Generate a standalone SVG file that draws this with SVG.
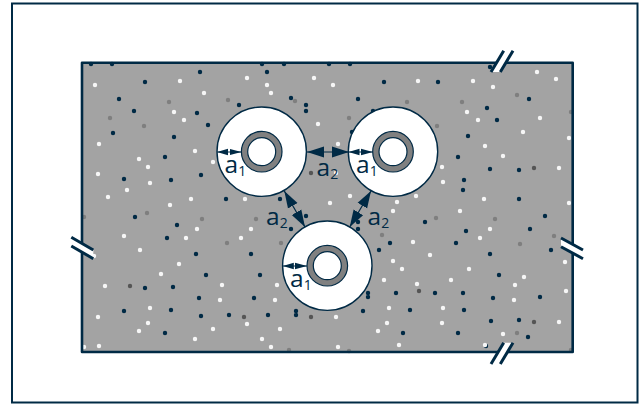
<svg xmlns="http://www.w3.org/2000/svg" width="642" height="404" viewBox="0 0 642 404">
<style>
.frame{fill:#fff;stroke:#002a45;stroke-width:2}
.slab{fill:#a3a3a3}
.edge{fill:none;stroke:#002a45;stroke-width:2.6;stroke-linejoin:round}
.dots{fill:none;stroke-width:4.4;stroke-linecap:round}
.d{stroke:#002a45}.w{stroke:#f6f6f6}.g{stroke:#7f7f7f}.k{stroke:#555}
.hole{fill:#fff;stroke:#002a45;stroke-width:1.4}
.ring{fill:#808080;stroke:#002a45;stroke-width:1.2}
.bore{fill:#fff;stroke:#002a45;stroke-width:1.2}
.dim{stroke:#002a45;stroke-width:1.2;marker-start:url(#headS);marker-end:url(#headE)}
.dim1{stroke:#002a45;stroke-width:1;marker-start:url(#headS1);marker-end:url(#headE1)}
.brk{stroke:#002a45;stroke-width:3;fill:none}
.gap{fill:#fff}
text{font-family:"Open Sans","Noto Sans",sans-serif;fill:#002a45;font-size:24.5px}
.s{font-size:14px}
</style>
<defs>
<marker id="headE" markerUnits="userSpaceOnUse" markerWidth="18" markerHeight="14" refX="17" refY="7" orient="auto"><path d="M0 1.5L17 7L0 12.5Z" fill="#002a45"/></marker>
<marker id="headS" markerUnits="userSpaceOnUse" markerWidth="18" markerHeight="14" refX="1" refY="7" orient="auto"><path d="M18 1.5L1 7L18 12.5Z" fill="#002a45"/></marker>
<marker id="headE1" markerUnits="userSpaceOnUse" markerWidth="13" markerHeight="10" refX="12" refY="5" orient="auto"><path d="M0 1.8L12 5L0 8.2Z" fill="#002a45"/></marker>
<marker id="headS1" markerUnits="userSpaceOnUse" markerWidth="13" markerHeight="10" refX="1" refY="5" orient="auto"><path d="M12 1.8L1 5L12 8.2Z" fill="#002a45"/></marker>
</defs>
<rect class="frame" x="12" y="3.5" width="625.5" height="399"/>
<g id="slab">
<rect class="slab" x="82" y="62.7" width="490.7" height="289.3"/>
<path class="dots d" d="M200 72h.01M145 82h.01M267 72h.01M119 99h.01M134 111h.01M197 113h.01M208 125h.01M113 133h.01M174 137h.01M165 157h.01M201 175h.01M124 179h.01M171 180h.01M239 105h.01M291 98h.01M306 105h.01M306 111h.01M226 199h.01M280 199h.01M91 64h.01M112 64h.01M262 64h.01M284 64h.01M384 82h.01M438 82h.01M358 99h.01M373 111h.01M487 108h.01M529 99h.01M497 120h.01M468 136h.01M458 157h.01M490 169h.01M519 170h.01M464 180h.01M463 190h.01M519 199h.01M352 132h.01M490 67h.01M329 64h.01M350 64h.01M135 217h.01M177 225h.01M167 238h.01M196 254h.01M251 254h.01M206 275h.01M260 275h.01M145 288h.01M173 287h.01M199 298h.01M254 298h.01M124 311h.01M171 310h.01M201 316h.01M229 315h.01M268 315h.01M296 311h.01M296 315h.01M165 333h.01M291 229h.01M306 216h.01M545 216h.01M425 222h.01M466 231h.01M530 229h.01M390 243h.01M456 243h.01M379 250h.01M490 254h.01M551 250h.01M499 275h.01M396 293h.01M435 293h.01M463 293h.01M493 298h.01M540 297h.01M368 293h.01M368 297h.01M363 311h.01M410 310h.01M464 310h.01M491 321h.01M519 320h.01M403 333h.01M458 333h.01M528 337h.01M358 229h.01M358 222h.01M486 346h.01"/>
<path class="dots w" d="M95 85h.01M180 81h.01M247 78h.01M314 78h.01M267 85h.01M271 93h.01M204 93h.01M174 112h.01M184 120h.01M99 144h.01M195 151h.01M139 159h.01M148 167h.01M213 162h.01M98 174h.01M150 183h.01M127 190h.01M108 197h.01M191 199h.01M245 199h.01M318 124h.01M333 85h.01M418 81h.01M473 81h.01M493 87h.01M537 72h.01M556 79h.01M467 112h.01M478 120h.01M540 118h.01M523 132h.01M569 138h.01M485 146h.01M503 156h.01M559 168h.01M442 167h.01M443 182h.01M484 199h.01M350 196h.01M416 196h.01M338 144h.01M336 173h.01M170 205h.01M124 236h.01M197 229h.01M186 238h.01M251 229h.01M241 238h.01M140 250h.01M94 256h.01M179 264h.01M161 274h.01M222 285h.01M105 286h.01M277 285h.01M220 300h.01M275 300h.01M150 308h.01M98 317h.01M148 323h.01M247 324h.01M139 331h.01M213 329h.01M280 329h.01M195 339h.01M262 339h.01M99 346h.01M271 347h.01M84 347h.01M393 211h.01M397 202h.01M460 211h.01M330 203h.01M569 203h.01M490 229h.01M480 238h.01M413 242h.01M430 255h.01M393 261h.01M565 262h.01M402 269h.01M469 269h.01M384 280h.01M451 280h.01M417 284h.01M524 277h.01M515 285h.01M566 291h.01M514 300h.01M389 308h.01M443 308h.01M336 317h.01M387 323h.01M442 323h.01M559 322h.01M378 331h.01M503 334h.01M399 345h.01M485 345h.01M338 347h.01"/>
<path class="dots g" d="M169 102h.01M228 100h.01M295 101h.01M110 118h.01M144 126h.01M407 102h.01M462 102h.01M517 95h.01M349 118h.01M437 126h.01M571 112h.01M147 213h.01M202 219h.01M256 219h.01M227 243h.01M281 243h.01M84 217h.01M289 350h.01M436 218h.01M495 219h.01M382 235h.01M554 236h.01M520 244h.01M517 333h.01M349 351h.01M571 350h.01"/>
<path class="dots k" d="M311 173h.01M534 168h.01M130 286h.01M244 317h.01M311 317h.01M419 291h.01M534 322h.01"/>
<rect class="edge" x="82" y="62.7" width="490.7" height="289.3"/>
</g>
<g id="breaks">
<path class="gap" d="M503.7 50.7L513 50.7L500.3 72L491 72Z"/>
<path class="gap" d="M503.7 342.7L513 342.7L500.3 364L491 364Z"/>
<path class="gap" d="M71.3 237.3L93.3 250L93.3 258.7L71.3 246Z"/>
<path class="gap" d="M561 238L583 250L583 258.7L561 246.7Z"/>
<path class="brk" d="M503.7 50.7L491 72M513 50.7L500.3 72M503.7 342.7L491 364M513 342.7L500.3 364M71.3 237.3L93.3 250M71.3 246L93.3 258.7M561 238L583 250M561 246.7L583 258.7"/>
</g>
<g id="pipe-left">
<circle class="hole" cx="261.7" cy="151.7" r="44.7"/>
<circle class="ring" cx="261.7" cy="151.7" r="20.3"/>
<circle class="bore" cx="261.7" cy="151.7" r="14"/>
</g>
<g id="pipe-right">
<circle class="hole" cx="393" cy="151.7" r="44.7"/>
<circle class="ring" cx="393" cy="151.7" r="20.3"/>
<circle class="bore" cx="393" cy="151.7" r="14"/>
</g>
<g id="pipe-bottom">
<circle class="hole" cx="327.3" cy="265.7" r="44.7"/>
<circle class="ring" cx="327.3" cy="265.7" r="20.3"/>
<circle class="bore" cx="327.3" cy="265.7" r="14"/>
</g>
<g id="connectors">
<line class="dim1" x1="217" y1="152" x2="241.5" y2="152"/>
<line class="dim1" x1="348.5" y1="152" x2="372.8" y2="152"/>
<line class="dim1" x1="282.8" y1="266" x2="307" y2="266"/>
<line class="dim" x1="307" y1="152" x2="349" y2="152"/>
<line class="dim" x1="284.3" y1="191" x2="305" y2="227"/>
<line class="dim" x1="371" y1="191" x2="349.7" y2="227"/>
</g>
<g id="labels">
<text x="224.5" y="172.5">a<tspan class="s" dy="3">1</tspan></text>
<text x="356" y="172.5">a<tspan class="s" dy="3">1</tspan></text>
<text x="290" y="286.5">a<tspan class="s" dy="3">1</tspan></text>
<text x="316.5" y="176">a<tspan class="s" dy="3">2</tspan></text>
<text x="266" y="224.5">a<tspan class="s" dy="3">2</tspan></text>
<text x="367.5" y="224.5">a<tspan class="s" dy="3">2</tspan></text>
</g>
</svg>
